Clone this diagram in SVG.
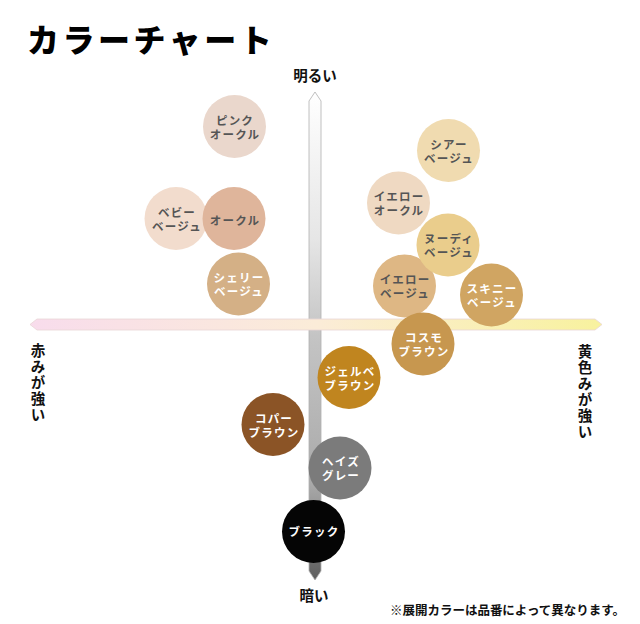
<svg xmlns="http://www.w3.org/2000/svg" width="640" height="624" viewBox="0 0 640 624">
<defs>
<linearGradient id="gv" x1="0" y1="92" x2="0" y2="580" gradientUnits="userSpaceOnUse">
<stop offset="0" stop-color="#ffffff"/>
<stop offset="0.3" stop-color="#e6e6e6"/>
<stop offset="0.5" stop-color="#c4c4c4"/>
<stop offset="0.8" stop-color="#aaaaaa"/>
<stop offset="1" stop-color="#5e5e5e"/>
</linearGradient>
<linearGradient id="gh" x1="30" y1="0" x2="602" y2="0" gradientUnits="userSpaceOnUse">
<stop offset="0" stop-color="#f8dcec"/>
<stop offset="0.5" stop-color="#fbecd8"/>
<stop offset="1" stop-color="#f8f29e"/>
</linearGradient>
<style>
text{font-family:"Noto Sans CJK JP","Noto Sans CJK SC",sans-serif;font-weight:700;}
.title{font-size:32px;font-weight:900;fill:#000;letter-spacing:3.5px;}
.lab{font-size:14.5px;fill:#111;text-anchor:middle;}
.vert{font-size:14.5px;fill:#111;writing-mode:vertical-rl;letter-spacing:1.6px;}
.note{font-size:12.5px;fill:#111;}
.c text{font-size:11.5px;text-anchor:middle;letter-spacing:1.2px;}
.dk text{fill:#555;}
.wt text{fill:#ffffff;}
</style>
</defs>
<text class="title" x="27" y="52">カラーチャート</text>
<g id="axes">
<polygon points="309,101 315,92 321,101 321,571 315,580 309,571" fill="url(#gv)" stroke="#b0b0b0" stroke-width="0.8"/>
<polygon points="30,324.5 37,319 595,319 602,324.5 595,330 37,330" fill="url(#gh)" stroke="#e8d6d6" stroke-width="0.8"/>
</g>
<text class="lab" x="315" y="81">明るい</text>
<text class="lab" x="314" y="601">暗い</text>
<text class="vert" x="38" y="343">赤みが強い</text>
<text class="vert" x="585" y="344">黄色みが強い</text>
<text class="note" x="390" y="615" textLength="235" lengthAdjust="spacing">※展開カラーは品番によって異なります。</text>

<g id="pink-ocher" class="c dk"><circle cx="234.5" cy="126.5" r="31.5" fill="#ead7cc"/><text x="235" y="124.5">ピンク</text><text x="235" y="138.5">オークル</text></g>
<g id="baby-beige" class="c dk"><circle cx="176" cy="218.5" r="31.5" fill="#f2dccd"/><text x="177" y="216.5">ベビー</text><text x="177" y="230.5">ベージュ</text></g>
<g id="ocher" class="c dk"><circle cx="234" cy="218.5" r="31.5" fill="#dfb59b"/><text x="235" y="224.5">オークル</text></g>
<g id="sherry-beige" class="c wt"><circle cx="238.5" cy="284" r="31.5" fill="#d4b086"/><text x="239" y="282">シェリー</text><text x="239" y="296">ベージュ</text></g>
<g id="sheer-beige" class="c dk"><circle cx="448.5" cy="150.5" r="31.5" fill="#f0dbb0"/><text x="449" y="148.5">シアー</text><text x="449" y="162.5">ベージュ</text></g>
<g id="yellow-ocher" class="c dk"><circle cx="398.5" cy="203" r="31.5" fill="#efd9c2"/><text x="399" y="201">イエロー</text><text x="399" y="215">オークル</text></g>
<g id="yellow-beige" class="c dk"><circle cx="404.5" cy="286" r="31.5" fill="#deb784"/><text x="405" y="284">イエロー</text><text x="405" y="298">ベージュ</text></g>
<g id="nudie-beige" class="c dk"><circle cx="448" cy="245" r="31.5" fill="#eacd8c"/><text x="449" y="243">ヌーディ</text><text x="449" y="257">ベージュ</text></g>
<g id="skinny-beige" class="c wt"><circle cx="491.5" cy="295" r="31.5" fill="#d0a562"/><text x="492" y="293">スキニー</text><text x="492" y="307">ベージュ</text></g>
<g id="cosmo-brown" class="c wt"><circle cx="423" cy="344" r="31.5" fill="#c7974f"/><text x="424" y="342">コスモ</text><text x="424" y="356">ブラウン</text></g>
<g id="gelbe-brown" class="c wt"><circle cx="349" cy="377.5" r="31.5" fill="#c0851f"/><text x="350" y="375.5">ジェルベ</text><text x="350" y="389.5">ブラウン</text></g>
<g id="copper-brown" class="c wt"><circle cx="273" cy="424.5" r="31.5" fill="#8b5426"/><text x="274" y="422.5">コパー</text><text x="274" y="436.5">ブラウン</text></g>
<g id="haze-gray" class="c wt"><circle cx="340" cy="468" r="31.5" fill="#7b7b7b"/><text x="341" y="466">ヘイズ</text><text x="341" y="480">グレー</text></g>
<g id="black" class="c wt"><circle cx="313.5" cy="531.5" r="31.5" fill="#050505"/><text x="314" y="536">ブラック</text></g>
</svg>
